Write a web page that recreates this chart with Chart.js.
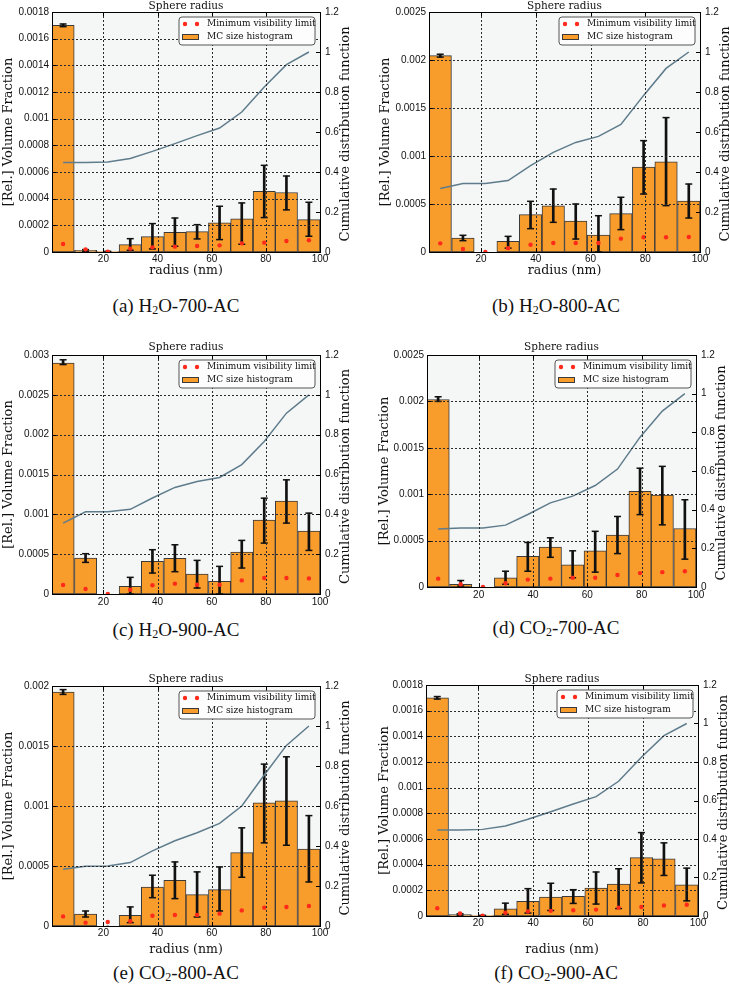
<!DOCTYPE html>
<html>
<head>
<meta charset="utf-8">
<title>Sphere radius histograms</title>
<script src="https://cdn.jsdelivr.net/npm/chart.js@4.4.1/dist/chart.umd.min.js"></script>
<style>
  html, body { margin: 0; padding: 0; background: #ffffff; }
  body { position: relative; width: 729px; height: 992px; overflow: hidden; }
  canvas { position: absolute; }
  .caption { position: absolute; transform: translate(-50%, -50%); font-family: "Liberation Serif", "Times New Roman", serif; font-size: 19px; color: #111; white-space: nowrap; }
  .caption sub { font-size: 12px; vertical-align: -2px; }
</style>
</head>
<body>
<div class="caption" style="left:176px; top:306px">(a) H<sub>2</sub>O-700-AC</div>
<div class="caption" style="left:556px; top:306px">(b) H<sub>2</sub>O-800-AC</div>
<div class="caption" style="left:176px; top:630px">(c) H<sub>2</sub>O-900-AC</div>
<div class="caption" style="left:556px; top:628px">(d) CO<sub>2</sub>-700-AC</div>
<div class="caption" style="left:176px; top:973px">(e) CO<sub>2</sub>-800-AC</div>
<div class="caption" style="left:556px; top:973px">(f) CO<sub>2</sub>-900-AC</div>
<script>
// bin centres (nm) and ticks
const radius = [5.1, 13.4, 21.6, 29.9, 38.1, 46.4, 54.6, 62.9, 71.1, 79.4, 87.6, 95.9];
const xTicks = [20, 40, 60, 80, 100];
const rightTicks = [0, 0.2, 0.4, 0.6, 0.8, 1, 1.2];
const leftMax = [0.0018, 0.0025, 0.003, 0.0025, 0.002, 0.0018];
const leftStep = [0.0002, 0.0005, 0.0005, 0.0005, 0.0005, 0.0002];
const legendLabels = ['Minimum visibility limit', 'MC size histogram'];

// (a) H2O-700-AC
const volA = [0.0017, 0.000012, 0.000003, 0.000055, 0.000115, 0.000148, 0.000153, 0.000218, 0.000248, 0.000455, 0.000446, 0.000243];
const errLoA = [0.00169, 0.000005, 0, 0.000013, 0.000023, 0.000043, 0.000098, 0.000093, 0.000058, 0.000258, 0.000316, 0.000118];
const errHiA = [0.00171, 0.000018, 0.000005, 0.0001, 0.000213, 0.000255, 0.000205, 0.000343, 0.000368, 0.00065, 0.00057, 0.000373];
const minVisA = [0.00006, 0.00002, 0.000003, 0.000025, 0.000035, 0.00004, 0.000045, 0.00005, 0.000065, 0.00007, 0.000082, 0.000088];
const cdfA = [0.447, 0.447, 0.45, 0.468, 0.503, 0.542, 0.582, 0.62, 0.70, 0.825, 0.937, 1.0];

// (b) H2O-800-AC
const volB = [0.002045, 0.000146, 0, 0.000111, 0.000389, 0.00048, 0.000323, 0.000177, 0.0004, 0.000885, 0.00094, 0.00053];
const errLoB = [0.00203, 0.000118, 0, 0.00004, 0.000243, 0.000309, 0.000135, 0, 0.000233, 0.000604, 0.000483, 0.000354];
const errHiB = [0.00206, 0.000174, 0, 0.000163, 0.000528, 0.000656, 0.0005, 0.000378, 0.00057, 0.00116, 0.0014, 0.000708];
const minVisB = [0.00009, 0.000031, 0, 0.00004, 0.000076, 0.000094, 0.000094, 0.000094, 0.000139, 0.000153, 0.000153, 0.000156];
const cdfB = [0.317, 0.342, 0.342, 0.357, 0.432, 0.498, 0.548, 0.578, 0.638, 0.783, 0.918, 1.0];

// (c) H2O-900-AC
const volC = [0.0029, 0.000451, 0, 0.000096, 0.00041, 0.000447, 0.000251, 0.000159, 0.000527, 0.000928, 0.001166, 0.00079];
const errLoC = [0.00288, 0.000397, 0, 0, 0.000263, 0.00028, 0.000075, 0, 0.000326, 0.000639, 0.00089, 0.000547];
const errHiC = [0.00294, 0.000506, 0, 0.000209, 0.000556, 0.000618, 0.000422, 0.000347, 0.000673, 0.001203, 0.001433, 0.001015];
const minVisC = [0.000113, 0.000063, 0, 0.000054, 0.000109, 0.00013, 0.000117, 0.000117, 0.000171, 0.0002, 0.0002, 0.000196];
const cdfC = [0.356, 0.413, 0.413, 0.425, 0.482, 0.535, 0.565, 0.585, 0.65, 0.766, 0.908, 1.0];

// (d) CO2-700-AC
const volD = [0.00202, 0.00003, 0, 0.0001, 0.00033, 0.00043, 0.00024, 0.00039, 0.00056, 0.00103, 0.00099, 0.00063];
const errLoD = [0.002, 0.00001, 0, 0.00003, 0.00017, 0.00032, 0.0001, 0.00016, 0.00036, 0.00078, 0.00067, 0.0003];
const errHiD = [0.00205, 0.00007, 0, 0.00017, 0.00048, 0.00053, 0.00039, 0.0006, 0.00076, 0.00128, 0.0013, 0.00094];
const minVisD = [0.00009, 0.00003, 0, 0.00004, 0.00008, 0.00009, 0.0001, 0.0001, 0.00013, 0.00015, 0.00016, 0.00017];
const cdfD = [0.30, 0.305, 0.305, 0.32, 0.375, 0.435, 0.47, 0.525, 0.61, 0.775, 0.91, 1.0];

// (e) CO2-800-AC
const volE = [0.00195, 0.0001, 0, 0.000089, 0.000325, 0.000381, 0.000261, 0.000303, 0.000612, 0.001026, 0.001043, 0.00064];
const errLoE = [0.00193, 0.000075, 0, 0.000028, 0.000236, 0.000228, 0.000075, 0.000125, 0.000406, 0.000693, 0.000673, 0.000367];
const errHiE = [0.00197, 0.000125, 0, 0.000159, 0.000423, 0.000534, 0.000451, 0.000492, 0.000818, 0.001349, 0.00141, 0.00092];
const minVisE = [0.00008, 0.000028, 0.000033, 0.00004, 0.000086, 0.000092, 0.000092, 0.000103, 0.00013, 0.000153, 0.000158, 0.000167];
const cdfE = [0.284, 0.299, 0.30, 0.317, 0.376, 0.426, 0.466, 0.513, 0.60, 0.755, 0.903, 1.0];

// (f) CO2-900-AC
const volF = [0.0017, 0.000012, 0.000003, 0.000055, 0.000115, 0.000148, 0.000153, 0.000218, 0.000248, 0.000455, 0.000446, 0.000243];
const errLoF = [0.00169, 0.000005, 0, 0.000013, 0.000023, 0.000043, 0.000098, 0.000093, 0.000058, 0.000258, 0.000316, 0.000118];
const errHiF = [0.00171, 0.000018, 0.000005, 0.0001, 0.000213, 0.000255, 0.000205, 0.000343, 0.000368, 0.00065, 0.00057, 0.000373];
const minVisF = [0.00006, 0.00002, 0.000003, 0.000025, 0.000035, 0.00004, 0.000045, 0.00005, 0.000065, 0.00007, 0.000082, 0.000088];
const cdfF = [0.447, 0.447, 0.45, 0.468, 0.503, 0.542, 0.582, 0.62, 0.70, 0.825, 0.937, 1.0];

const ORANGE = '#f89c2c';
const RED = '#ff2a1a';

// canvas box [x, y, w, h] and plot area [left, right, top, bottom], page pixels
const panels = [
  { vol: volA, lo: errLoA, hi: errHiA, vis: minVisA, cdf: cdfA, box: [0, 0, 365, 282], area: [52, 320, 12, 252], yTitlePad: 1.2, xTitle: true, xTitlePad: 3.5, xTickPad: 1, titleGap: 6 },
  { vol: volB, lo: errLoB, hi: errHiB, vis: minVisB, cdf: cdfB, box: [365, 0, 364, 282], area: [429, 700, 12, 252], yTitlePad: 12.8, xTitle: true, xTitlePad: 3.5, xTickPad: 1, titleGap: 6 },
  { vol: volC, lo: errLoC, hi: errHiC, vis: minVisC, cdf: cdfC, box: [0, 330, 365, 282], area: [52, 320, 355, 594], yTitlePad: 1.2, xTitle: false, xTitlePad: 0, xTickPad: 2, titleGap: 8 },
  { vol: volD, lo: errLoD, hi: errHiD, vis: minVisD, cdf: cdfD, box: [365, 330, 364, 275], area: [427, 696, 355, 587], yTitlePad: 12.2, xTitle: false, xTitlePad: 0, xTickPad: 2, titleGap: 8 },
  { vol: volE, lo: errLoE, hi: errHiE, vis: minVisE, cdf: cdfE, box: [0, 660, 365, 300], area: [52, 320, 686, 926], yTitlePad: 1.2, xTitle: true, xTitlePad: 2.5, xTickPad: 1, titleGap: 7 },
  { vol: volF, lo: errLoF, hi: errHiF, vis: minVisF, cdf: cdfF, box: [365, 660, 364, 300], area: [426, 698, 685, 916], yTitlePad: 12, xTitle: true, xTitlePad: 2.5, xTickPad: 1, titleGap: 6 }
];

// background, dotted grid, inner ticks, frame, top title, right title, legend
const decor = {
  id: 'decor',
  beforeDraw(chart) {
    const { ctx, chartArea: a } = chart;
    ctx.save();
    ctx.fillStyle = '#f5f6f6';
    ctx.fillRect(a.left, a.top, a.right - a.left, a.bottom - a.top);
    ctx.restore();
  },
  afterDatasetsDraw(chart, args, opts) {
    const { ctx, chartArea: a } = chart;
    const xs = chart.scales.x, ys = chart.scales.y, y2 = chart.scales.y2;
    const line = (x1, y1, x2, y2_) => { ctx.beginPath(); ctx.moveTo(x1, y1); ctx.lineTo(x2, y2_); ctx.stroke(); };

    ctx.save();
    ctx.strokeStyle = '#2a2a2a';
    ctx.lineWidth = 1;
    ctx.setLineDash([2, 2]);
    xs.ticks.forEach(t => {
      const px = Math.round(xs.getPixelForValue(t.value)) + 0.5;
      if (px > a.left + 2 && px < a.right - 2) line(px, a.top, px, a.bottom);
    });
    ys.ticks.forEach(t => {
      const py = Math.round(ys.getPixelForValue(t.value)) + 0.5;
      if (py > a.top + 2 && py < a.bottom - 2) line(a.left, py, a.right, py);
    });
    ctx.setLineDash([]);

    ctx.strokeStyle = '#000';
    xs.ticks.forEach(t => {
      const px = Math.round(xs.getPixelForValue(t.value)) + 0.5;
      line(px, a.bottom, px, a.bottom - 4);
      line(px, a.top, px, a.top + 4);
    });
    ys.ticks.forEach(t => {
      const py = Math.round(ys.getPixelForValue(t.value)) + 0.5;
      line(a.left, py, a.left + 4, py);
    });
    y2.ticks.forEach(t => {
      const py = Math.round(y2.getPixelForValue(t.value)) + 0.5;
      line(a.right, py, a.right - 4, py);
    });
    ctx.strokeRect(Math.round(a.left) + 0.5, Math.round(a.top) + 0.5, Math.round(a.right - a.left), Math.round(a.bottom - a.top));

    // top title
    ctx.fillStyle = '#111';
    ctx.textAlign = 'center';
    ctx.textBaseline = 'middle';
    ctx.font = '10.5px "DejaVu Serif"';
    ctx.fillText('Sphere radius', (a.left + a.right) / 2, a.top - opts.titleGap);

    // right axis title, reading upwards
    ctx.save();
    ctx.translate(a.right + 26, (a.top + a.bottom) / 2 + 2);
    ctx.rotate(-Math.PI / 2);
    ctx.font = '13px "DejaVu Serif"';
    ctx.fillText('Cumulative distribution function', 0, 0);
    ctx.restore();

    // legend box
    const lw = 136, lh = 28;
    const lx = a.right - 5 - lw, ly = a.top + 5;
    const r = 3;
    ctx.beginPath();
    ctx.moveTo(lx + r, ly);
    ctx.arcTo(lx + lw, ly, lx + lw, ly + lh, r);
    ctx.arcTo(lx + lw, ly + lh, lx, ly + lh, r);
    ctx.arcTo(lx, ly + lh, lx, ly, r);
    ctx.arcTo(lx, ly, lx + lw, ly, r);
    ctx.closePath();
    ctx.fillStyle = '#fdfdfd';
    ctx.fill();
    ctx.strokeStyle = '#555';
    ctx.stroke();

    ctx.fillStyle = RED;
    [6, 18].forEach(dx => { ctx.beginPath(); ctx.arc(lx + dx, ly + 7, 2.2, 0, Math.PI * 2); ctx.fill(); });
    ctx.fillStyle = ORANGE;
    ctx.fillRect(lx + 3, ly + 17, 17, 6);
    ctx.strokeStyle = '#3a3a3a';
    ctx.strokeRect(lx + 3.5, ly + 17.5, 16, 5);

    ctx.fillStyle = '#111';
    ctx.textAlign = 'left';
    ctx.font = '9px "DejaVu Serif"';
    ctx.fillText(legendLabels[0], lx + 28, ly + 7);
    ctx.fillText(legendLabels[1], lx + 28, ly + 20);
    ctx.restore();
  }
};
Chart.register(decor);

Chart.defaults.font.family = '"Liberation Sans", Arial, sans-serif';
Chart.defaults.color = '#111';

function build(p, k) {
  const [cx, cy, cw, ch] = p.box;
  const [L, R, T, B] = p.area;
  const cv = document.createElement('canvas');
  cv.width = cw;
  cv.height = ch;
  cv.style.left = cx + 'px';
  cv.style.top = cy + 'px';
  document.body.appendChild(cv);

  const bars = radius.map((x, i) => ({ x: x, y: p.vol[i] }));
  const errs = radius.map((x, i) => ({ x: x, y: [p.lo[i], p.hi[i]] }));
  const caps = [];
  radius.forEach((x, i) => {
    if (p.hi[i] > p.lo[i]) caps.push({ x: x, y: p.lo[i] }, { x: x, y: p.hi[i] });
  });
  const dots = radius.map((x, i) => ({ x: x, y: p.vis[i] }));
  const cdf = radius.map((x, i) => ({ x: x, y: p.cdf[i] }));

  new Chart(cv, {
    type: 'bar',
    data: {
      datasets: [
        { type: 'line', data: cdf, yAxisID: 'y2', borderColor: '#5e7c8b', borderWidth: 1.5, pointRadius: 0, tension: 0, fill: false, order: 1 },
        { type: 'scatter', data: dots, yAxisID: 'y', pointRadius: 2.2, pointBackgroundColor: RED, pointBorderWidth: 0, order: 2 },
        { type: 'scatter', data: caps, yAxisID: 'y', pointStyle: 'line', pointRadius: 3.5, pointBorderColor: '#111', pointBorderWidth: 1.5, order: 3 },
        { type: 'bar', data: errs, yAxisID: 'y', backgroundColor: '#111', barThickness: 2, maxBarThickness: 2, grouped: false, order: 4 },
        { type: 'bar', data: bars, yAxisID: 'y', backgroundColor: ORANGE, borderColor: '#3a3a3a', borderWidth: 1, borderSkipped: false,
          grouped: false, categoryPercentage: 1, barPercentage: 1, order: 5 }
      ]
    },
    options: {
      responsive: false,
      animation: false,
      devicePixelRatio: 1,
      layout: { padding: { top: T - cy, left: 0, right: 0, bottom: 0 } },
      plugins: {
        legend: { display: false },
        tooltip: { enabled: false },
        decor: { titleGap: p.titleGap }
      },
      scales: {
        x: {
          type: 'linear', min: 1, max: 100, offset: false,
          afterBuildTicks: s => { s.ticks = xTicks.map(v => ({ value: v })); },
          afterFit: s => { s.height = cy + ch - B; },
          grid: { display: false, drawTicks: false },
          border: { display: false },
          ticks: { padding: p.xTickPad, font: { size: 10 }, maxRotation: 0, autoSkip: false },
          title: { display: p.xTitle, text: 'radius (nm)', font: { family: '"DejaVu Serif"', size: 12.5 }, padding: { top: 0, bottom: p.xTitlePad } }
        },
        y: {
          type: 'linear', position: 'left', min: 0, max: leftMax[k],
          afterFit: s => { s.width = L - cx; },
          grid: { display: false, drawTicks: false },
          border: { display: false },
          ticks: { stepSize: leftStep[k], padding: 3, font: { size: 10 }, autoSkip: false, callback: v => String(+v.toFixed(6)) },
          title: { display: true, text: '[Rel.] Volume Fraction', font: { family: '"DejaVu Serif"', size: 13 }, padding: { top: p.yTitlePad, bottom: 0 } }
        },
        y2: {
          type: 'linear', position: 'right', min: 0, max: 1.2,
          afterBuildTicks: s => { s.ticks = rightTicks.map(v => ({ value: v })); },
          afterFit: s => { s.width = cx + cw - R; },
          grid: { display: false, drawTicks: false },
          border: { display: false },
          ticks: { padding: 5, font: { size: 10 }, autoSkip: false, callback: v => String(v) }
        }
      }
    }
  });
}

panels.forEach(build);
</script>
</body>
</html>
